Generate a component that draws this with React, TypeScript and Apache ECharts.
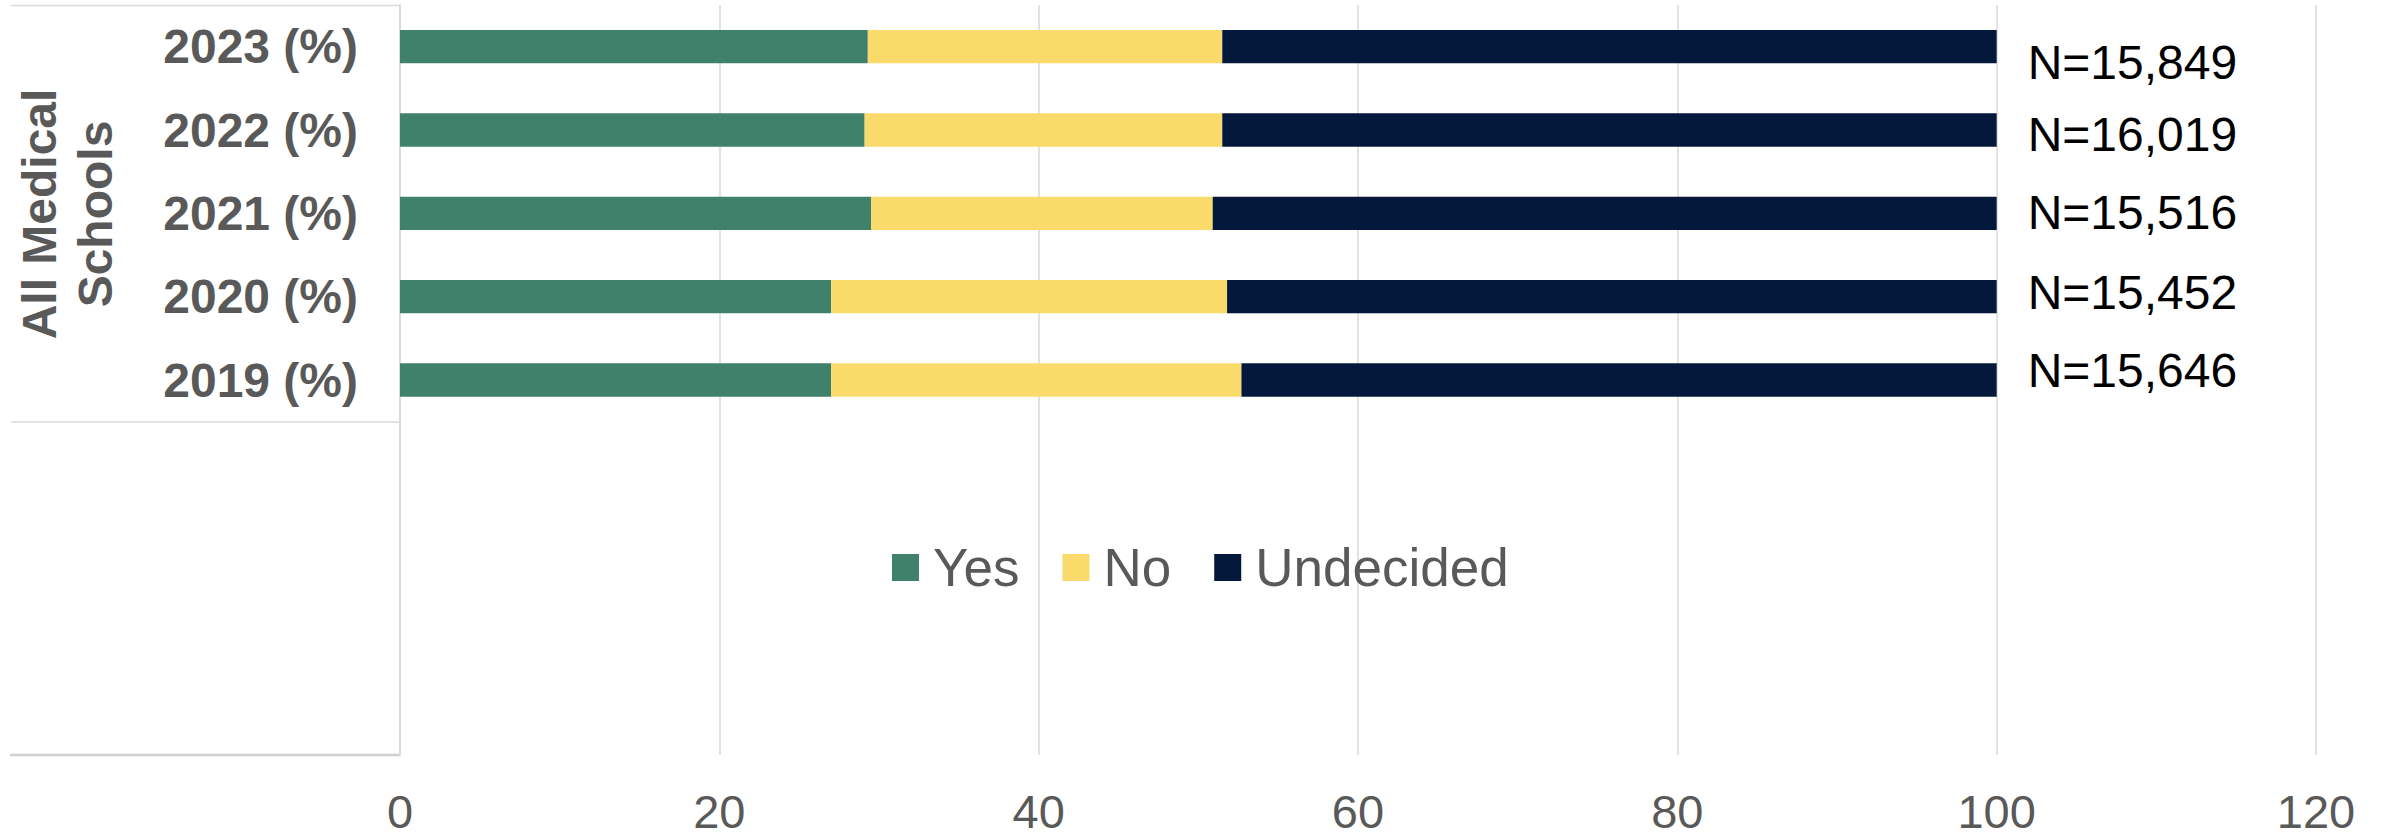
import React, { useEffect, useRef } from "react";
import * as echarts from "echarts";

// Data (bottom to top order of the real categories)
const categories = ["2019 (%)", "2020 (%)", "2021 (%)", "2022 (%)", "2023 (%)"];
const blankRows = 4;
const yesValues = [27.0, 27.0, 29.5, 29.1, 29.3];
const noValues = [25.7, 24.8, 21.4, 22.4, 22.2];
const undecidedValues = [47.3, 48.2, 49.1, 48.5, 48.5];
const nLabels = ["N=15,646", "N=15,452", "N=15,516", "N=16,019", "N=15,849"];
const xTicks = [0, 20, 40, 60, 80, 100, 120];
const groupLabel = "All Medical\nSchools";

// Layout-only: vertical nudge of each N label
const nLabelDy = [-10, -4, -1, 4, 16];

const FONT = "'Liberation Sans', Arial, sans-serif";
const GREY = "#595959";

export default function App() {
  const ref = useRef<HTMLDivElement>(null);
  useEffect(() => {
    if (!ref.current) return;
    const chart = echarts.init(ref.current, undefined, { renderer: "svg" });
    const pad = (arr: any[]) => [...Array(blankRows).fill(null), ...arr];
    const axisCats = [...Array.from({ length: blankRows }, (_, i) => " ".repeat(i + 1)), ...categories];

    const option: any = {
      animation: false,
      backgroundColor: "#ffffff",
      textStyle: { fontFamily: FONT },
      grid: { left: 400, right: 65, top: 5, bottom: 81, containLabel: false },
      legend: {
        left: 892,
        top: 541,
        padding: 0,
        itemWidth: 27,
        itemHeight: 27,
        itemGap: 43,
        icon: "rect",
        textStyle: { fontFamily: FONT, fontSize: 53, color: GREY, padding: [0, 0, 0, 9], lineHeight: 52 },
        data: ["Yes", "No", "Undecided"],
      },
      xAxis: {
        type: "value",
        min: xTicks[0],
        max: xTicks[xTicks.length - 1],
        interval: xTicks[1] - xTicks[0],
        axisLine: { show: false },
        axisTick: { show: false },
        splitLine: { show: true, lineStyle: { color: "#d9d9d9", width: 1.5 } },
        axisLabel: { fontFamily: FONT, fontSize: 47, color: GREY, margin: 34, lineHeight: 44 },
      },
      yAxis: {
        type: "category",
        data: axisCats,
        axisLine: { show: true, lineStyle: { color: "#d9d9d9", width: 1.5 } },
        axisTick: { show: false },
        axisLabel: { fontFamily: FONT, fontSize: 48, fontWeight: "bold", color: GREY, margin: 42 },
      },
      series: [
        {
          name: "Yes",
          type: "bar",
          stack: "total",
          barWidth: "40%",
          itemStyle: { color: "#40816C" },
          data: pad(yesValues),
        },
        {
          name: "No",
          type: "bar",
          stack: "total",
          barWidth: "40%",
          itemStyle: { color: "#FADA6A" },
          data: pad(noValues),
        },
        {
          name: "Undecided",
          type: "bar",
          stack: "total",
          barWidth: "40%",
          itemStyle: { color: "#03183A" },
          data: pad(
            undecidedValues.map((v, i) => ({
              value: v,
              label: {
                show: true,
                position: "right",
                distance: 31,
                offset: [0, nLabelDy[i]],
                formatter: nLabels[i],
                fontFamily: FONT,
                fontSize: 48,
                color: "#000000",
              },
            }))
          ),
        },
      ],
      graphic: [
        { type: "line", shape: { x1: 11, y1: 5.5, x2: 400, y2: 5.5 }, style: { stroke: "#d9d9d9", lineWidth: 1.5 } },
        { type: "line", shape: { x1: 11, y1: 422, x2: 400, y2: 422 }, style: { stroke: "#d9d9d9", lineWidth: 1.5 } },
        { type: "line", shape: { x1: 10, y1: 755, x2: 400, y2: 755 }, style: { stroke: "#d0d0d0", lineWidth: 2.5 } },
        {
          type: "text",
          x: 67,
          y: 214,
          rotation: Math.PI / 2,
          style: {
            text: groupLabel,
            fontFamily: FONT,
            fontSize: 48,
            fontWeight: "bold",
            fill: GREY,
            align: "center",
            verticalAlign: "middle",
            lineHeight: 56,
          },
        },
      ],
    };
    chart.setOption(option);
    return () => chart.dispose();
  }, []);
  return (
    <div
      ref={ref}
      style={{ position: "absolute", left: 0, top: 0, width: 2381, height: 836, background: "#fff" }}
    />
  );
}
